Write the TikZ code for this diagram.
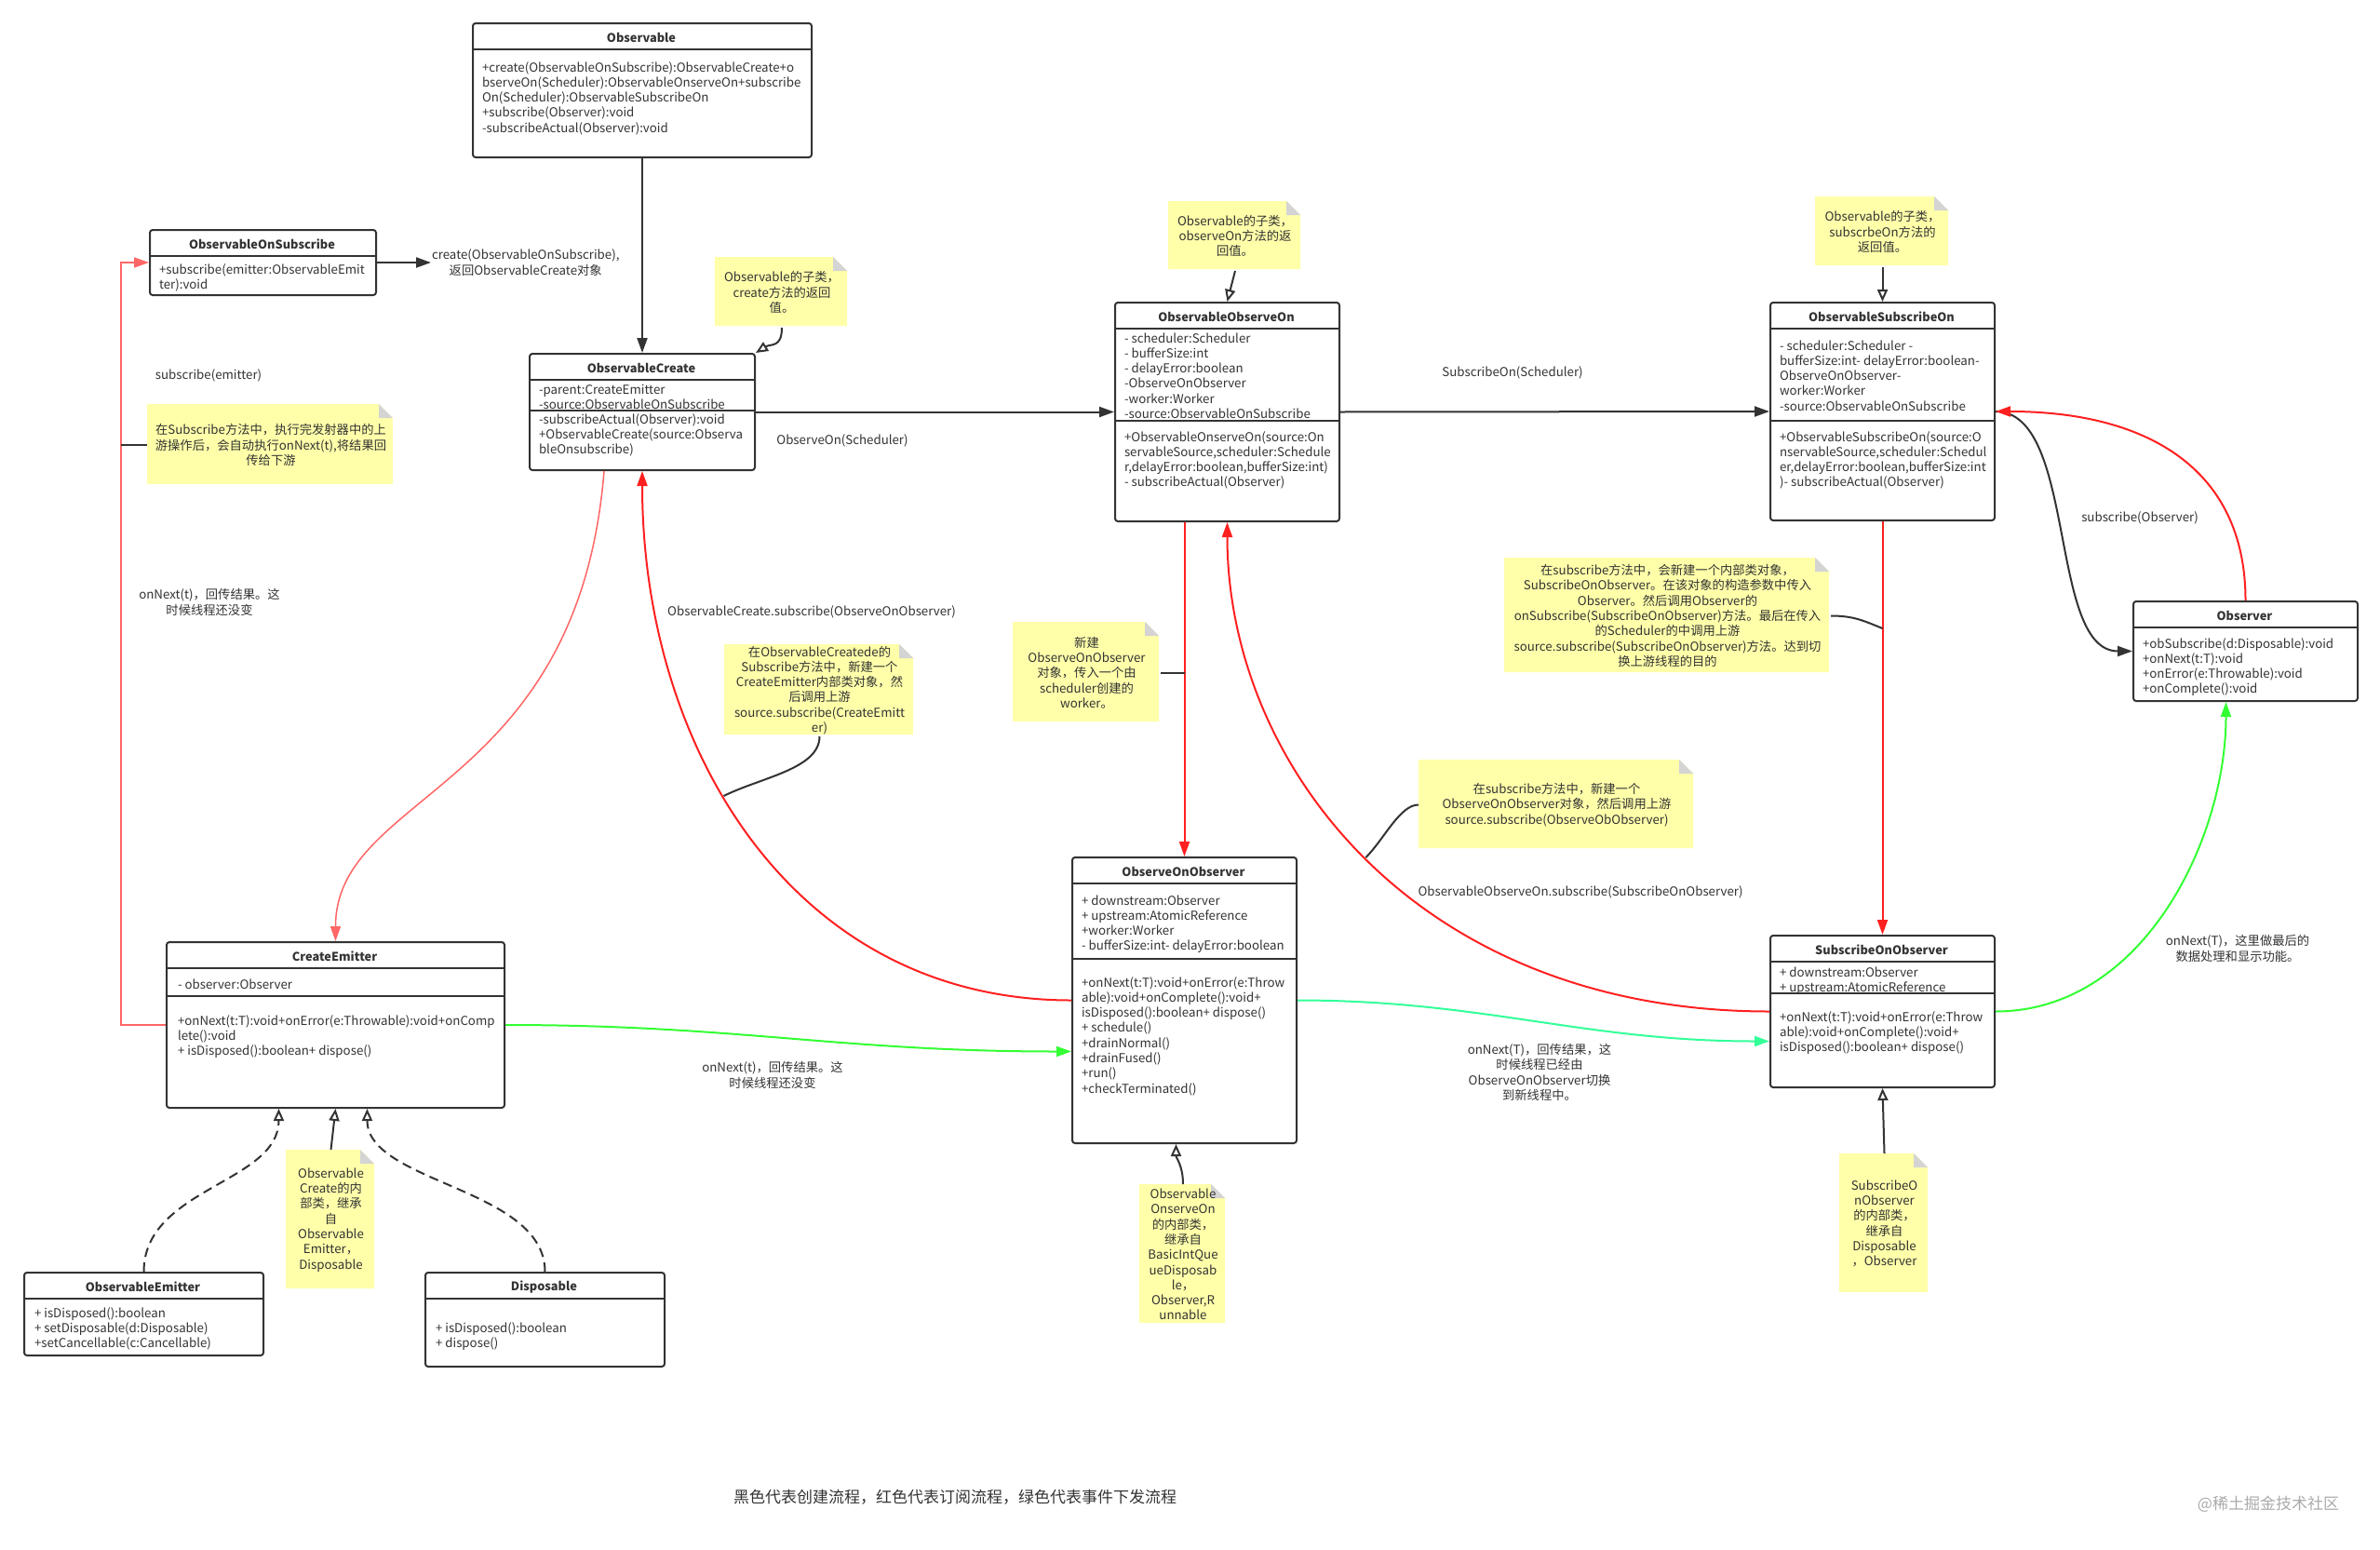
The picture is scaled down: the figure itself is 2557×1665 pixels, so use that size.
\documentclass[tikz,border=0pt]{standalone}
\usepackage{fontspec}
\setmainfont{Noto Sans CJK SC}
\usetikzlibrary{arrows.meta}
\definecolor{cline}{HTML}{333333}
\definecolor{ctext}{HTML}{333333}
\definecolor{cnote}{HTML}{FFFFAA}
\definecolor{cfold}{HTML}{D4D4D4}
\definecolor{cred}{HTML}{FF2020}
\definecolor{cpink}{HTML}{FF6666}
\definecolor{cgreen}{HTML}{33FF33}
\definecolor{cmint}{HTML}{33FF99}
\definecolor{cmark}{HTML}{AAAAAA}
\tikzset{
  every picture/.style={line width=2pt},
  cls/.style={draw=cline, fill=white, rounded corners=3pt, inner sep=0pt},
  clstitle/.style={font=\fontsize{12.8}{15}\selectfont\bfseries, text=ctext, inner sep=0pt},
  member/.style={font=\fontsize{13.3}{16.3}\selectfont, text=ctext, align=left, inner sep=0pt, anchor=base west},
  notetext/.style={font=\fontsize{13.3}{16.3}\selectfont, text=ctext, align=center, inner sep=0pt},
  lbl/.style={font=\fontsize{13.3}{16.3}\selectfont, text=ctext, align=center, inner sep=0pt},
  blk/.style={draw=cline, -{Triangle[length=16pt, width=11pt]}},
  gen/.style={draw=cline, -{Triangle[open, length=13pt, width=11pt]}},
  real/.style={gen, dash pattern=on 10pt off 6pt},
  link/.style={draw=cline},
  sub/.style={draw=cred, -{Triangle[length=16pt, width=11pt]}},
  subthin/.style={draw=cpink, line width=1.5pt, -{Triangle[length=16pt, width=11pt]}},
  evt/.style={draw=#1, -{Triangle[length=16pt, width=11pt]}},
}
\newcommand{\umlclass}[6]{ % name, x, y, w, h, title
  \node[cls, minimum width=#4pt, minimum height=#5pt, anchor=north west] (#1) at (#2,#3) {};
  \node[clstitle] at (#2+#4/2,#3+16) {#6};
  \draw[cline] (#2,#3+29) -- (#2+#4,#3+29);
}
\newcommand{\divline}[2]{ % node, y
  \draw[cline] (#1.west |- 0,#2) -- (#1.east |- 0,#2);
}
\newcommand{\stickynote}[6]{ % name, x, y, w, h, text
  \fill[cnote] (#2,#3) -- (#2+#4-15,#3) -- (#2+#4,#3+15) -- (#2+#4,#3+#5) -- (#2,#3+#5) -- cycle;
  \fill[cfold] (#2+#4-15,#3) -- (#2+#4-15,#3+15) -- (#2+#4,#3+15) -- cycle;
  \node[notetext, minimum width=#4pt, minimum height=#5pt, anchor=north west] (#1) at (#2,#3) {#6};
}
\begin{document}
\begin{tikzpicture}[x=1pt, y=-1pt]
  \fill[white] (0,0) rectangle (2557,1665);
  \useasboundingbox (0,0) rectangle (2557,1665);
  % classes (member nodes sit on the baseline of their last line)
  \umlclass{obs}{507}{24}{364}{144}{Observable}
  \node[member] at (517,142.2) {+create(ObservableOnSubscribe):ObservableCreate+o\\bserveOn(Scheduler):ObservableOnserveOn+subscribe\\On(Scheduler):ObservableSubscribeOn\\+subscribe(Observer):void\\-subscribeActual(Observer):void};
  \umlclass{oos}{160}{246}{243}{70}{ObservableOnSubscribe}
  \node[member] at (170,310.3) {+subscribe(emitter:ObservableEmit\\ter):void};
  \umlclass{oc}{568}{379}{242}{125}{ObservableCreate}
  \divline{oc}{441}
  \node[member] at (578,439.3) {-parent:CreateEmitter\\-source:ObservableOnSubscribe};
  \node[member] at (578,487.6) {-subscribeActual(Observer):void\\+ObservableCreate(source:Observa\\bleOnsubscribe)};
  \umlclass{obon}{1197}{324}{241}{235}{ObservableObserveOn}
  \divline{obon}{452}
  \node[member] at (1207,449.5) {- scheduler:Scheduler\\- bufferSize:int\\- delayError:boolean\\-ObserveOnObserver\\-worker:Worker\\-source:ObservableOnSubscribe};
  \node[member] at (1207,522.9) {+ObservableOnserveOn(source:On\\servableSource,scheduler:Schedule\\r,delayError:boolean,bufferSize:int)\\- subscribeActual(Observer)};
  \umlclass{osub}{1901}{324}{241}{234}{ObservableSubscribeOn}
  \divline{osub}{452}
  \node[member] at (1911,441.2) {- scheduler:Scheduler -\\bufferSize:int- delayError:boolean-\\ObserveOnObserver-\\worker:Worker\\-source:ObservableOnSubscribe};
  \node[member] at (1911,522.9) {+ObservableSubscribeOn(source:O\\nservableSource,scheduler:Schedul\\er,delayError:boolean,bufferSize:int\\)- subscribeActual(Observer)};
  \umlclass{obsr}{2291}{645}{241}{107}{Observer}
  \node[member] at (2301,744.9) {+obSubscribe(d:Disposable):void\\+onNext(t:T):void\\+onError(e:Throwable):void\\+onComplete():void};
  \umlclass{ooo}{1151}{920}{241}{307}{ObserveOnObserver}
  \divline{ooo}{1030}
  \node[member] at (1161,1020.9) {+ downstream:Observer\\+ upstream:AtomicReference\\+worker:Worker\\- bufferSize:int- delayError:boolean};
  \node[member] at (1161,1174.1) {+onNext(t:T):void+onError(e:Throw\\able):void+onComplete():void+\\isDisposed():boolean+ dispose()\\+ schedule()\\+drainNormal()\\+drainFused()\\+run()\\+checkTerminated()};
  \umlclass{soo}{1901}{1004}{241}{163}{SubscribeOnObserver}
  \divline{soo}{1067}
  \node[member] at (1911,1065.3) {+ downstream:Observer\\+ upstream:AtomicReference};
  \node[member] at (1911,1129.6) {+onNext(t:T):void+onError(e:Throw\\able):void+onComplete():void+\\isDisposed():boolean+ dispose()};
  \umlclass{ce}{178}{1011}{363}{178}{CreateEmitter}
  \divline{ce}{1070}
  \node[member] at (190,1062) {- observer:Observer};
  \node[member] at (190,1133.6) {+onNext(t:T):void+onError(e:Throwable):void+onComp\\lete():void\\+ isDisposed():boolean+ dispose()};
  \umlclass{oe}{25}{1366}{257}{89}{ObservableEmitter}
  \node[member] at (36,1447.6) {+ isDisposed():boolean\\+ setDisposable(d:Disposable)\\+setCancellable(c:Cancellable)};
  \umlclass{disp}{456}{1366}{257}{101}{Disposable}
  \node[member] at (467,1447.3) {+ isDisposed():boolean\\+ dispose()};
  % notes
  \stickynote{ncreate}{768}{276}{142}{74}{Observable的子类，\\create方法的返回\\值。}
  \stickynote{nemit}{158}{434}{264}{86}{在Subscribe方法中，执行完发射器中的上\\游操作后，会自动执行onNext(t),将结果回\\传给下游}
  \stickynote{nobon}{1255}{216}{142}{73}{Observable的子类，\\observeOn方法的返\\回值。}
  \stickynote{nsubon}{1950}{211}{143}{74}{Observable的子类，\\subscrbeOn方法的\\返回值。}
  \stickynote{nsubobs}{1616}{599}{349}{123}{在subscribe方法中，会新建一个内部类对象，\\SubscribeOnObserver。在该对象的构造参数中传入\\Observer。然后调用Observer的\\onSubscribe(SubscribeOnObserver)方法。最后在传入\\的Scheduler的中调用上游\\source.subscribe(SubscribeOnObserver)方法。达到切\\换上游线程的目的}
  \stickynote{nworker}{1088}{668}{157}{107}{新建\\ObserveOnObserver\\对象，传入一个由\\scheduler创建的\\worker。}
  \stickynote{nooo}{1524}{816}{295}{95}{在subscribe方法中，新建一个\\ObserveOnObserver对象，然后调用上游\\source.subscribe(ObserveObObserver)}
  \stickynote{nce}{778}{692}{203}{97}{在ObservableCreatede的\\Subscribe方法中，新建一个\\CreateEmitter内部类对象，然\\后调用上游\\source.subscribe(CreateEmitt\\er)}
  \stickynote{nceinner}{307}{1235}{95}{149}{Observable\\Create的内\\部类，继承\\自\\Observable\\Emitter，\\Disposable}
  \stickynote{noooinner}{1224}{1272}{92}{149}{Observable\\OnserveOn\\的内部类，\\继承自\\BasicIntQue\\ueDisposab\\le，\\Observer,R\\unnable}
  \stickynote{nsooinner}{1976}{1239}{95}{149}{SubscribeO\\nObserver\\的内部类，\\继承自\\Disposable\\，Observer}
  % labels
  \node[lbl, anchor=west] (lcreate) at (463,282) {create(ObservableOnSubscribe),\\返回ObservableCreate对象};
  \node[lbl] (lobserveon) at (905,473) {ObserveOn(Scheduler)};
  \node[lbl] (lsubon) at (1625,400) {SubscribeOn(Scheduler)};
  \node[lbl] (lsubobs) at (2299,556) {subscribe(Observer)};
  \node[lbl] (lsubemit) at (224,403) {subscribe(emitter)};
  \node[lbl] (lnextce) at (225,647) {onNext(t)，回传结果。这\\时候线程还没变};
  \node[lbl] (lcesub) at (872,657) {ObservableCreate.subscribe(ObserveOnObserver)};
  \node[lbl] (lobsub) at (1698,958) {ObservableObserveOn.subscribe(SubscribeOnObserver)};
  \node[lbl] (lnextooo) at (830,1155) {onNext(t)，回传结果。这\\时候线程还没变};
  \node[lbl] (lnextsoo) at (1654,1152) {onNext(T)，回传结果，这\\时候线程已经由\\ObserveOnObserver切换\\到新线程中。};
  \node[lbl] (lnextobsr) at (2404,1019) {onNext(T)，这里做最后的\\数据处理和显示功能。};
  \node[font=\fontsize{17}{20}\selectfont, text=ctext] (legend) at (1026,1608) {黑色代表创建流程，红色代表订阅流程，绿色代表事件下发流程};
  \node[font=\fontsize{17}{20}\selectfont, text=cmark] (mark) at (2437,1616) {@稀土掘金技术社区};
  % creation flow
  \draw[blk] (obs.south) -- (oc.north);
  \draw[blk] (oos.east) -- (lcreate.west |- oos.east);
  \draw[blk] (oc.east) -- (obon.west);
  \draw[blk] (obon.east) -- (osub.west);
  \draw[blk] (osub.east) .. controls +(88,0) and +(-91,0) .. (obsr.west);
  % subscribe flow
  \coordinate (lbend) at (130,700);
  \draw[subthin] (ce.west) -| (lbend) |- (oos.west);
  \draw[subthin] ([xshift=-41pt]oc.south) .. controls +(-28,346) and +(0,-161) .. (ce.north);
  \draw[sub] (obsr.north) .. controls +(0,-145) and +(158,0) .. (osub.east);
  \draw[sub] (osub.south) -- (soo.north);
  \draw[sub] (soo.west) .. controls +(-380,0) and +(0,260) .. (obon.south) coordinate[pos=0.5] (tapR3);
  \draw[sub] (ooo.north |- obon.south) -- (ooo.north);
  \draw[sub] (ooo.west) .. controls +(-300,0) and +(0,296) .. (oc.south) coordinate[pos=0.57] (tapR5);
  % event flow
  \draw[evt=cgreen] (ce.east) .. controls +(250,0) and +(-250,0) .. ([yshift=-55pt]ooo.west);
  \draw[evt=cmint] (ooo.east) .. controls +(200,0) and +(-200,0) .. ([yshift=-32pt]soo.west);
  \draw[evt=cgreen] (soo.east) .. controls +(158,0) and +(0,148) .. ([xshift=-21pt]obsr.south);
  % note links
  \coordinate (tapR2) at (osub.south |- 0,675);
  \draw[gen] (ncreate.south) .. controls +(0,22) and +(16,-10) .. (oc.north east);
  \draw[gen] (nobon.south) -- (obon.north);
  \draw[gen] (nsubon.south) -- (osub.north);
  \draw[gen] (nceinner.north) -- (ce.south);
  \draw[gen] (noooinner.north) .. controls +(0,-20) and +(0,15) .. ([xshift=-9pt]ooo.south);
  \draw[gen] (nsooinner.north) -- (soo.south);
  \draw[link] (nemit.west) -- (lbend |- nemit.west);
  \draw[link] (nsubobs.east) .. controls +(25,0) and +(-20,-8) .. (tapR2);
  \draw[link] (nworker.east) -- (ooo.north |- nworker.east);
  \draw[link] (nooo.west) .. controls +(-20,0) and +(20,-20) .. (tapR3);
  \draw[link] (nce.south) .. controls +(0,35) and +(40,-20) .. (tapR5);
  % realization
  \draw[real] (oe.north) .. controls +(0,-90) and +(0,80) .. ([xshift=-61pt]ce.south);
  \draw[real] (disp.north) .. controls +(0,-90) and +(0,80) .. ([xshift=34pt]ce.south);
\end{tikzpicture}
\end{document}
